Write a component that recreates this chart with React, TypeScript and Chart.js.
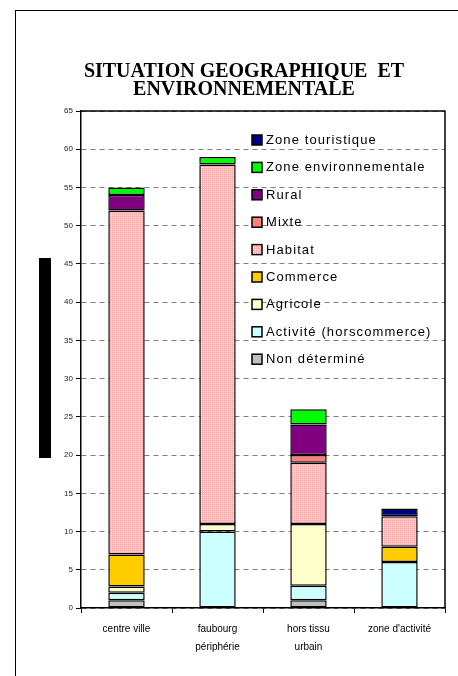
import React, { useEffect, useRef } from "react";
import { Chart, registerables } from "chart.js";

Chart.register(...registerables);

const categories: string[][] = [["centre ville"], ["faubourg", "périphérie"], ["hors tissu", "urbain"], ["zone d'activité"]];
const titleLines = ["SITUATION GEOGRAPHIQUE  ET", "ENVIRONNEMENTALE"];

const nonDetermine = [1, null, 1, null];
const activite = [1, 10, 1.9, 6];
const agricole = [0.8, 1, 8.1, null];
const commerce = [4.2, null, null, 2];
const habitat = [45, 47, 8, 4];
const mixte = [null, null, 1, null];
const rural = [2, null, 4, null];
const zoneEnv = [1, 1, 2, null];
const zoneTour = [null, null, null, 1];

const yMin = 0;
const yMax = 65;
const yStep = 5;

function makeHabitatPattern(): CanvasPattern | string {
  const c = document.createElement("canvas");
  c.width = 2;
  c.height = 2;
  const g = c.getContext("2d");
  if (!g) return "#ffc6c6";
  g.fillStyle = "#ffb0b0";
  g.fillRect(0, 0, 2, 2);
  g.fillStyle = "#ffffff";
  g.fillRect(1, 1, 1, 1);
  const p = g.createPattern(c, "repeat");
  return p || "#ffc6c6";
}

const frameBorderPlugin = {
  id: "frameBorder",
  afterDatasetsDraw(chart: any) {
    const { ctx, chartArea } = chart;
    ctx.save();
    ctx.strokeStyle = "#000";
    ctx.lineWidth = 1.5;
    ctx.beginPath();
    ctx.moveTo(chartArea.left, chartArea.top);
    ctx.lineTo(chartArea.right, chartArea.top);
    ctx.lineTo(chartArea.right, chartArea.bottom);
    ctx.stroke();
    ctx.restore();
  },
};

const insideLegendPlugin = {
  id: "insideLegend",
  afterDraw(chart: any) {
    const { ctx, chartArea } = chart;
    const ds = chart.data.datasets;
    ctx.save();
    ctx.font = '13px "Liberation Sans", Arial, sans-serif';
    try {
      (ctx as any).letterSpacing = "1.1px";
    } catch (e) {}
    ctx.textBaseline = "middle";
    ctx.textAlign = "left";
    const x0 = chartArea.left + 171;
    let y = chartArea.top + 29;
    for (let i = ds.length - 1; i >= 0; i--) {
      ctx.fillStyle = ds[i].backgroundColor;
      ctx.fillRect(x0, y - 5, 10, 10);
      ctx.lineWidth = 1.5;
      ctx.strokeStyle = "#000";
      ctx.strokeRect(x0, y - 5, 10, 10);
      ctx.fillStyle = "#000";
      ctx.fillText(ds[i].label, x0 + 14, y + 0.5);
      y += 27.4;
    }
    ctx.restore();
  },
};

export default function App() {
  const canvasRef = useRef<HTMLCanvasElement | null>(null);

  useEffect(() => {
    if (!canvasRef.current) return;
    const pattern = makeHabitatPattern();
    const mk = (label: string, data: (number | null)[], color: any) => ({
      label,
      data,
      backgroundColor: color,
      borderColor: "#000",
      borderWidth: 1.5,
      borderSkipped: false,
      categoryPercentage: 1,
      barPercentage: 0.4,
    });
    const chart = new Chart(canvasRef.current, {
      type: "bar",
      data: {
        labels: categories,
        datasets: [
          mk("Non déterminé", nonDetermine, "#c0c0c0"),
          mk("Activité (horscommerce)", activite, "#ccffff"),
          mk("Agricole", agricole, "#ffffcc"),
          mk("Commerce", commerce, "#ffcc00"),
          mk("Habitat", habitat, pattern),
          mk("Mixte", mixte, "#ff8080"),
          mk("Rural", rural, "#800080"),
          mk("Zone environnementale", zoneEnv, "#00ff00"),
          mk("Zone touristique", zoneTour, "#000080"),
        ] as any,
      },
      options: {
        animation: false,
        responsive: false,
        devicePixelRatio: 1,
        layout: { padding: { left: 13, right: 13, top: 0, bottom: 0 } },
        plugins: {
          legend: { display: false },
          tooltip: { enabled: false },
          title: {
            display: true,
            text: titleLines,
            color: "#000",
            font: { family: '"Liberation Serif", "Times New Roman", serif', size: 20, weight: "bold", lineHeight: 0.9 },
            padding: { top: 63, bottom: 12 },
          },
        },
        scales: {
          x: {
            stacked: true,
            grid: {
              display: true,
              drawOnChartArea: false,
              drawTicks: true,
              tickLength: 5,
              tickColor: "#000",
              color: "#000",
              offset: true,
            },
            border: { display: true, color: "#000", width: 1.5 },
            ticks: {
              color: "#000",
              font: { family: '"Liberation Sans", Arial, sans-serif', size: 10, lineHeight: 1.8 },
              padding: 7,
              maxRotation: 0,
              autoSkip: false,
            },
            afterFit(scale: any) {
              scale.height = 68;
            },
          },
          y: {
            stacked: true,
            min: yMin,
            max: yMax,
            ticks: {
              stepSize: yStep,
              color: "#222",
              font: { family: '"Liberation Sans", Arial, sans-serif', size: 8 },
              padding: 3,
            },
            grid: {
              color: "#808080",
              lineWidth: 1,
              tickLength: 5,
              tickColor: "#000",
              tickBorderDash: [],
            },
            border: { display: true, color: "#000", width: 1.5, dash: [5, 4] },
            afterFit(scale: any) {
              scale.width = 38;
            },
          },
        },
      } as any,
      plugins: [frameBorderPlugin, insideLegendPlugin],
    });
    return () => chart.destroy();
  }, []);

  return (
    <div style={{ position: "absolute", left: 0, top: 0, width: 458, height: 676, overflow: "hidden", background: "#fff" }}>
      <div
        style={{
          position: "absolute",
          left: 15,
          top: 10,
          width: 520,
          height: 720,
          borderLeft: "1px solid #000",
          borderTop: "1px solid #000",
        }}
      />
      <div style={{ position: "absolute", left: 39, top: 258, width: 12, height: 200, background: "#000" }} />
      <canvas ref={canvasRef} width={428} height={676} style={{ position: "absolute", left: 30, top: 0, width: 428, height: 676 }} />
    </div>
  );
}
